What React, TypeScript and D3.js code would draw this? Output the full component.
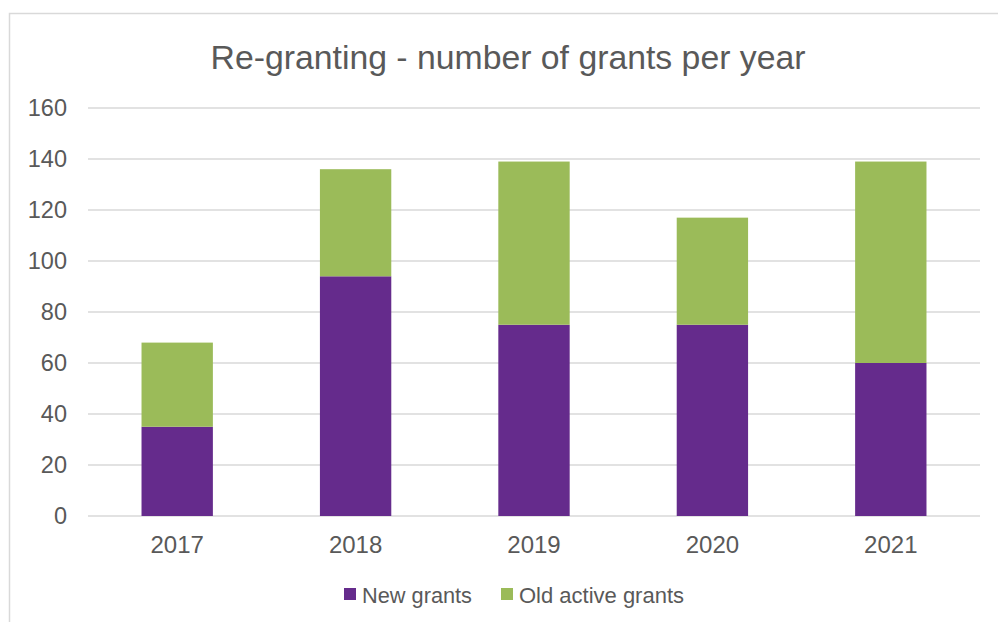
import React, { useEffect, useRef } from "react";
import * as d3 from "d3";

const years = ["2017", "2018", "2019", "2020", "2021"];
const newGrants = [35, 94, 75, 75, 60];
const oldActiveGrants = [33, 42, 64, 42, 79];
const seriesNames = ["New grants", "Old active grants"];
const seriesColors = ["#652B8C", "#9BBB59"];
const yTicks = [0, 20, 40, 60, 80, 100, 120, 140, 160];

const App: React.FC = () => {
  const svgRef = useRef<SVGSVGElement>(null);

  useEffect(() => {
    if (!svgRef.current) return;
    const svg = d3.select(svgRef.current);
    svg.selectAll("*").remove();

    const width = 998;
    const height = 622;
    const font = "'Liberation Sans', Arial, sans-serif";
    const textColor = "#595959";

    svg.attr("width", width).attr("height", height);

    svg.append("rect").attr("width", width).attr("height", height).attr("fill", "#fff");

    // chart frame (only top and left edges visible)
    svg
      .append("path")
      .attr("d", `M9.5,${height} V13.5 H${width}`)
      .attr("fill", "none")
      .attr("stroke", "#d9d9d9")
      .attr("stroke-width", 1.5);

    const left = 88;
    const right = 980;
    const top = 108;
    const bottom = 516;

    const x = d3.scaleBand<string>().domain(years).range([left, right]).paddingInner(0.6).paddingOuter(0.3);
    const y = d3.scaleLinear().domain([0, 160]).range([bottom, top]);

    // gridlines
    svg
      .append("g")
      .selectAll("line")
      .data(yTicks)
      .join("line")
      .attr("x1", left)
      .attr("x2", right)
      .attr("y1", (d) => y(d))
      .attr("y2", (d) => y(d))
      .attr("stroke", "#d9d9d9")
      .attr("stroke-width", 1.5);

    // y tick labels
    svg
      .append("g")
      .selectAll("text")
      .data(yTicks)
      .join("text")
      .attr("x", 67)
      .attr("y", (d) => y(d))
      .attr("dy", "0.36em")
      .attr("text-anchor", "end")
      .style("font-family", font)
      .style("font-size", "23.5px")
      .style("fill", textColor)
      .text((d) => d);

    // stacked bars
    const rows = years.map((yr, i) => ({ year: yr, s0: newGrants[i], s1: oldActiveGrants[i] }));
    const stack = d3.stack<any>().keys(["s0", "s1"]);
    const layers = stack(rows);

    svg
      .append("g")
      .selectAll("g")
      .data(layers)
      .join("g")
      .attr("fill", (_d, i) => seriesColors[i])
      .selectAll("rect")
      .data((d) => d)
      .join("rect")
      .attr("x", (d: any) => x(d.data.year)!)
      .attr("width", x.bandwidth())
      .attr("y", (d) => y(d[1]))
      .attr("height", (d) => y(d[0]) - y(d[1]));

    // x labels
    svg
      .append("g")
      .selectAll("text")
      .data(years)
      .join("text")
      .attr("x", (d) => x(d)! + x.bandwidth() / 2)
      .attr("y", 553)
      .attr("text-anchor", "middle")
      .style("font-family", font)
      .style("font-size", "24px")
      .style("fill", textColor)
      .text((d) => d);

    // title
    svg
      .append("text")
      .attr("x", 508)
      .attr("y", 69)
      .attr("text-anchor", "middle")
      .attr("textLength", 595)
      .attr("lengthAdjust", "spacingAndGlyphs")
      .style("font-family", font)
      .style("font-size", "34px")
      .style("fill", textColor)
      .text("Re-granting - number of grants per year");

    // legend
    const legendX = [344, 501];
    const legendW = [110, 165];
    const legend = svg.append("g");
    seriesNames.forEach((name, i) => {
      legend
        .append("rect")
        .attr("x", legendX[i])
        .attr("y", 588)
        .attr("width", 12)
        .attr("height", 12)
        .attr("fill", seriesColors[i]);
      legend
        .append("text")
        .attr("x", legendX[i] + 18)
        .attr("y", 602.5)
        .attr("textLength", legendW[i])
        .attr("lengthAdjust", "spacingAndGlyphs")
        .style("font-family", font)
        .style("font-size", "22px")
        .style("fill", textColor)
        .text(name);
    });
  }, []);

  return (
    <div style={{ position: "absolute", left: 0, top: 0, width: 998, height: 622, background: "#fff" }}>
      <svg ref={svgRef} style={{ display: "block" }}></svg>
    </div>
  );
};

export default App;
